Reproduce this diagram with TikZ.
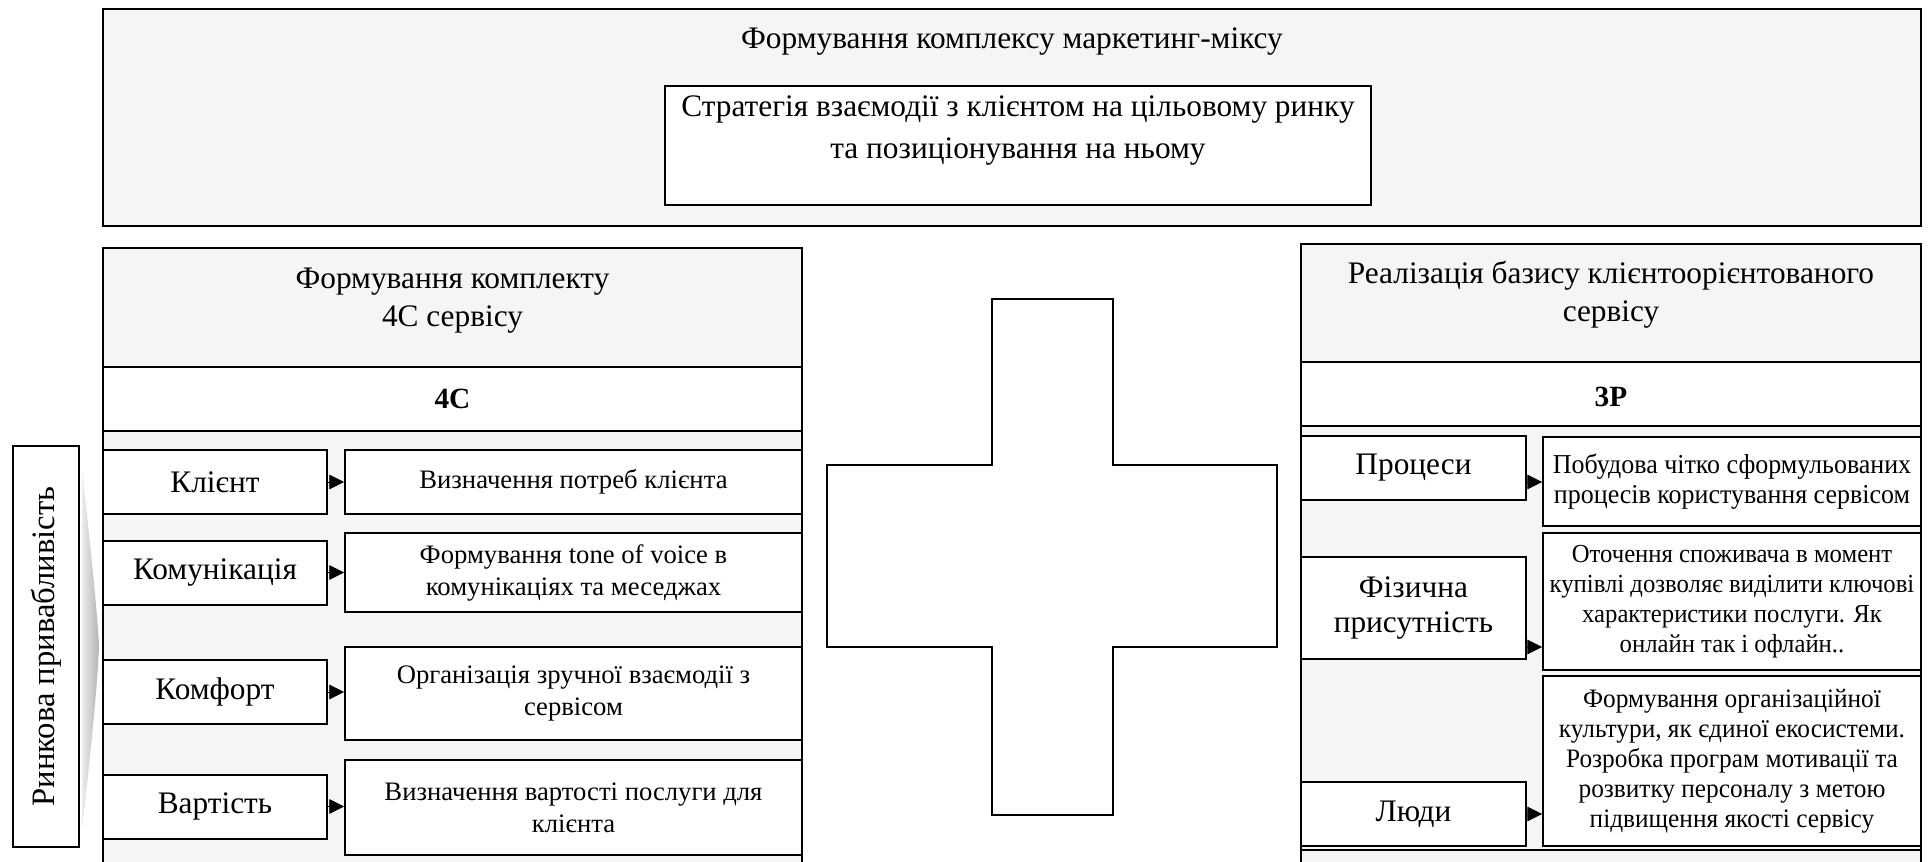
\documentclass[tikz,border=0pt]{standalone}
\usepackage{fontspec}
\setmainfont{Liberation Serif}
\newfontfamily\narrowserif[FakeStretch=0.95]{Liberation Serif}
\usetikzlibrary{arrows.meta}

\begin{document}
\begin{tikzpicture}[x=0.75pt, y=-0.75pt,
    frame/.style={draw=black, line width=1.5pt},
    panel/.style={frame, fill=gray!8},
    cell/.style={frame, fill=white, inner sep=2pt, align=center},
    lbl/.style={cell, minimum width=168pt, minimum height=48pt, font=\fontsize{23.5}{26}\selectfont},
    desc/.style={cell, font=\fontsize{20}{24}\selectfont},
    rdesc/.style={cell, font=\narrowserif\fontsize{19.5}{22.5}\selectfont},
    head/.style={align=center, font=\fontsize{23.5}{28.5}\selectfont},
    tip/.style={-{Triangle[length=11pt,width=11pt]}, line width=0.6pt}]
  \useasboundingbox (0,0) rectangle (1931,862);
  \clip (0,0) rectangle (1931,862);

  \draw[panel, line width=2pt] (103,9) rectangle (1921,226);
  \node[head] (mixtitle) at (1012,42) {Формування комплексу маркетинг-міксу};
  \node[frame, fill=white, minimum width=529.5pt, minimum height=89.25pt] (strat) at (1018,145.5) {};
  \node[head, font=\fontsize{23.5}{31.5}\selectfont] (strattext) at (1018,131) {Стратегія взаємодії з клієнтом на цільовому ринку\\та позиціонування на ньому};

  \node[lbl, rotate=90, minimum width=300.75pt, minimum height=49.5pt, font=\fontsize{24.5}{28}\selectfont] (attr) at (46,646.5) {Ринкова привабливість};
  \shade[left color=gray!15, right color=gray!60] (82,470) .. controls (92,560) and (97,610) .. (99,646)
    .. controls (97,690) and (92,740) .. (82,830) -- cycle;

  \draw[panel] (103,248) rectangle (802,900);
  \draw[frame, fill=white] (103,367) rectangle (802,431);
  \node[head] (hd4c) at (452.5,301) {Формування комплекту\\4С сервісу};
  \node[font=\bfseries\fontsize{22}{26}\selectfont] (set4c) at (452.5,399) {4С};

  \node[lbl] (klient) at (215,482) {Клієнт};
  \node[lbl] (komun) at (215,572.5) {Комунікація};
  \node[lbl] (komfort) at (215,692) {Комфорт};
  \node[lbl] (vartist) at (215,806.5) {Вартість};

  \node[desc, minimum width=342.75pt, minimum height=48pt] (dklient) at (573.5,482) {Визначення потреб клієнта};
  \node[desc, minimum width=342.75pt, minimum height=59.25pt] (dkomun) at (573.5,572.5) {Формування tone of voice в\\комунікаціях та меседжах};
  \node[desc, minimum width=342.75pt, minimum height=69.75pt] (dkomfort) at (573.5,693.5) {Організація зручної взаємодії з\\сервісом};
  \node[desc, minimum width=342.75pt, minimum height=71.25pt] (dvartist) at (573.5,807.5) {Визначення вартості послуги для\\клієнта};

  \draw[tip] (klient.east) -- (klient.east -| dklient.west);
  \draw[tip] (komun.east) -- (komun.east -| dkomun.west);
  \draw[tip] (komfort.east) -- (komfort.east -| dkomfort.west);
  \draw[tip] (vartist.east) -- (vartist.east -| dvartist.west);

  \draw[frame, fill=white] (992,299) -- (1113,299) -- (1113,465) -- (1277,465) -- (1277,647) -- (1113,647)
    -- (1113,815) -- (992,815) -- (992,647) -- (827,647) -- (827,465) -- (992,465) -- cycle;

  \draw[panel] (1301,244) rectangle (1921,850);
  \draw[panel] (1301,850) rectangle (1921,900);
  \draw[frame, fill=white] (1301,362) rectangle (1921,426);
  \node[head] (hd3p) at (1611,295) {Реалізація базису клієнтоорієнтованого\\сервісу};
  \node[font=\bfseries\fontsize{22}{26}\selectfont] (set3p) at (1611,397) {3Р};

  \node[lbl, minimum width=168.75pt] (proc) at (1413.5,468) {Процеси};
  \node[lbl, minimum width=168.75pt, minimum height=76.5pt] (fiz) at (1413.5,608) {Фізична\\присутність};
  \node[lbl, minimum width=168.75pt] (lyudy) at (1413.5,814) {Люди};

  \node[rdesc, minimum width=283.5pt, minimum height=66.75pt, font=\narrowserif\fontsize{20.5}{23}\selectfont] (dproc) at (1732,481.5) {Побудова чітко сформульованих\\процесів користування сервісом};
  \node[rdesc, minimum width=283.5pt, minimum height=102.75pt] (dfiz) at (1732,601.5) {Оточення споживача в момент\\купівлі дозволяє виділити ключові\\характеристики послуги. Як\\онлайн так і офлайн..};
  \node[rdesc, minimum width=283.5pt, minimum height=127.5pt, font=\narrowserif\fontsize{20}{22.5}\selectfont] (dlyudy) at (1732,761) {Формування організаційної\\культури, як єдиної екосистеми.\\Розробка програм мотивації та\\розвитку персоналу з метою\\підвищення якості сервісу};

  \draw[tip] ([yshift=-10.5pt]proc.east) -- ([yshift=-10.5pt]proc.east -| dproc.west);
  \draw[tip] ([yshift=-29.25pt]fiz.east) -- ([yshift=-29.25pt]fiz.east -| dfiz.west);
  \draw[tip] (lyudy.east) -- (lyudy.east -| dlyudy.west);
\end{tikzpicture}
\end{document}
